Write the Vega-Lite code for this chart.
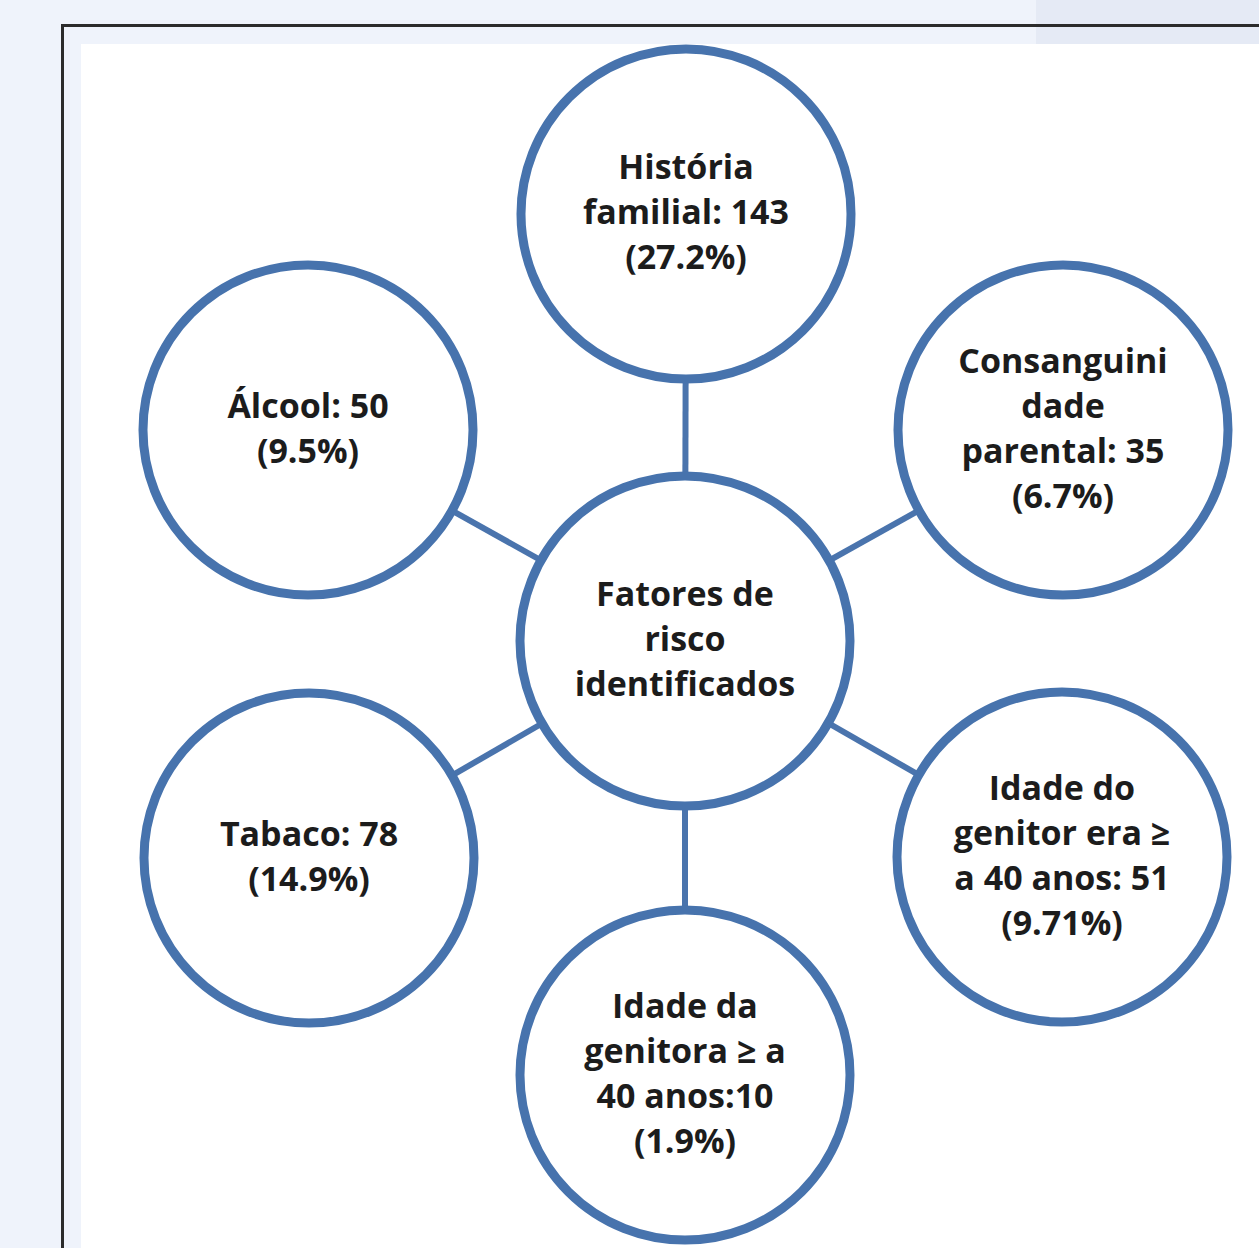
{
  "$schema": "https://vega.github.io/schema/vega-lite/v6.json",
  "width": 1259,
  "height": 1248,
  "padding": 0,
  "autosize": {"type": "none"},
  "background": "#eff3fb",
  "config": {"view": {"stroke": null}},
  "datasets": {
    "nodes": [
      {"id": "hub", "x": 685, "y": 641, "label": "Fatores de\nrisco\nidentificados"},
      {"id": "historia", "x": 686, "y": 214, "label": "História\nfamilial: 143\n(27.2%)"},
      {"id": "alcool", "x": 308, "y": 430, "label": "Álcool: 50\n(9.5%)"},
      {"id": "consang", "x": 1063, "y": 430, "label": "Consanguini\ndade\nparental: 35\n(6.7%)"},
      {"id": "tabaco", "x": 309, "y": 858, "label": "Tabaco: 78\n(14.9%)"},
      {"id": "genitor", "x": 1062, "y": 857, "label": "Idade do\ngenitor era ≥\na 40 anos: 51\n(9.71%)"},
      {"id": "genitora", "x": 685, "y": 1075, "label": "Idade da\ngenitora ≥ a\n40 anos:10\n(1.9%)"}
    ],
    "one": [{}]
  },
  "layer": [
    {
      "data": {"name": "one"},
      "mark": {"type": "rect", "fill": "#e5eaf5"},
      "encoding": {
        "x": {"datum": 1036, "type": "quantitative", "scale": {"domain": [0, 1259], "nice": false, "zero": false}, "axis": null},
        "x2": {"datum": 1259},
        "y": {"datum": 0, "type": "quantitative", "scale": {"domain": [0, 1248], "nice": false, "zero": false, "reverse": true}, "axis": null},
        "y2": {"datum": 44}
      }
    },
    {
      "data": {"name": "one"},
      "mark": {"type": "rect", "fill": "#ffffff"},
      "encoding": {
        "x": {"datum": 81, "type": "quantitative"},
        "x2": {"datum": 1259},
        "y": {"datum": 44, "type": "quantitative"},
        "y2": {"datum": 1248}
      }
    },
    {
      "data": {"name": "one"},
      "mark": {"type": "rect", "filled": false, "stroke": "#2b2b2b", "strokeWidth": 3, "clip": false},
      "encoding": {
        "x": {"datum": 62.5, "type": "quantitative"},
        "x2": {"datum": 1275},
        "y": {"datum": 25.5, "type": "quantitative"},
        "y2": {"datum": 1265}
      }
    },
    {
      "data": {"name": "nodes"},
      "transform": [{"filter": "datum.id != 'hub'"}],
      "mark": {"type": "rule", "stroke": "#4a74ad", "strokeWidth": 6},
      "encoding": {
        "x": {"field": "x", "type": "quantitative"},
        "y": {"field": "y", "type": "quantitative"},
        "x2": {"datum": 685},
        "y2": {"datum": 641}
      }
    },
    {
      "data": {"name": "nodes"},
      "mark": {"type": "point", "shape": "circle", "filled": true, "fill": "#ffffff", "stroke": "#4773ad", "strokeWidth": 9, "opacity": 1, "size": 108900},
      "encoding": {
        "x": {"field": "x", "type": "quantitative"},
        "y": {"field": "y", "type": "quantitative"}
      }
    },
    {
      "data": {"name": "nodes"},
      "transform": [{"filter": "split(datum.label, '\\n').length == 2"}],
      "mark": {"type": "text", "font": "Open Sans", "fontWeight": "bold", "fontSize": 34, "lineHeight": 45, "lineBreak": "\n", "align": "center", "baseline": "middle", "dy": -22, "color": "#1c1c1c"},
      "encoding": {
        "x": {"field": "x", "type": "quantitative"},
        "y": {"field": "y", "type": "quantitative"},
        "text": {"field": "label"}
      }
    },
    {
      "data": {"name": "nodes"},
      "transform": [{"filter": "split(datum.label, '\\n').length == 3"}],
      "mark": {"type": "text", "font": "Open Sans", "fontWeight": "bold", "fontSize": 34, "lineHeight": 45, "lineBreak": "\n", "align": "center", "baseline": "middle", "dy": -45, "color": "#1c1c1c"},
      "encoding": {
        "x": {"field": "x", "type": "quantitative"},
        "y": {"field": "y", "type": "quantitative"},
        "text": {"field": "label"}
      }
    },
    {
      "data": {"name": "nodes"},
      "transform": [{"filter": "split(datum.label, '\\n').length == 4"}],
      "mark": {"type": "text", "font": "Open Sans", "fontWeight": "bold", "fontSize": 34, "lineHeight": 45, "lineBreak": "\n", "align": "center", "baseline": "middle", "dy": -67, "color": "#1c1c1c"},
      "encoding": {
        "x": {"field": "x", "type": "quantitative"},
        "y": {"field": "y", "type": "quantitative"},
        "text": {"field": "label"}
      }
    }
  ]
}
